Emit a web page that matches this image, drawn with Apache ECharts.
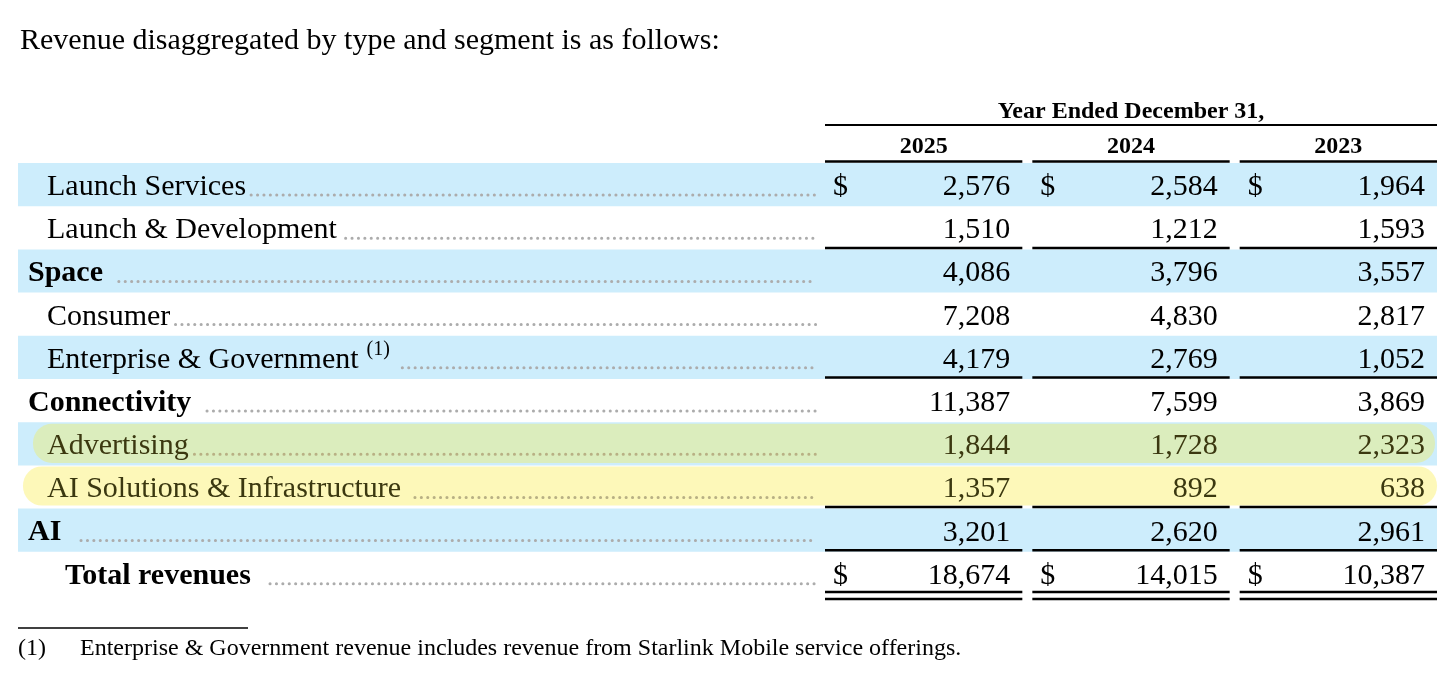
<!DOCTYPE html>
<html>
<head>
<meta charset="utf-8">
<script src="https://cdn.jsdelivr.net/npm/echarts@6/dist/echarts.min.js"></script>
<style>
  html, body { margin: 0; padding: 0; background: #fff; }
  #chart { width: 1456px; height: 681px; }
</style>
</head>
<body>
<div id="chart"></div>
<script>
// table content
const titleText = 'Revenue disaggregated by type and segment is as follows:';
const periodHeader = 'Year Ended December 31,';
const years = ['2025', '2024', '2023'];
const rowLabels = [
  'Launch Services', 'Launch & Development', 'Space',
  'Consumer', 'Enterprise & Government', 'Connectivity',
  'Advertising', 'AI Solutions & Infrastructure', 'AI',
  'Total revenues'
];
const rowKinds = ['item', 'item', 'segment', 'item', 'item', 'segment', 'item', 'item', 'segment', 'total'];
const values2025 = [2576, 1510, 4086, 7208, 4179, 11387, 1844, 1357, 3201, 18674];
const values2024 = [2584, 1212, 3796, 4830, 2769, 7599, 1728, 892, 2620, 14015];
const values2023 = [1964, 1593, 3557, 2817, 1052, 3869, 2323, 638, 2961, 10387];
const dollarRows = [0, 9];
const ruleRows = [1, 4, 7, 8];
const doubleRuleRows = [9];
const footnoteRows = [4];
const footnoteMark = '(1)';
const footnoteText = 'Enterprise & Government revenue includes revenue from Starlink Mobile service offerings.';
const highlightRows = [6, 7];

// look
const SERIF = '"Liberation Serif", "Times New Roman", Times, serif';
const FS = 30;
const BAND = '#cdedfc';
const HIGHLIGHT = { 6: '#dbedbd', 7: '#fdf8b9' };
const MARKED_TEXT = '#3b3810';
const TABLE_LEFT = 18, TABLE_RIGHT = 19, VALUES_LEFT = 820, VALUES_RIGHT = 14;
const TOP = 163, BOTTOM = 86;
const INDENT = { item: 29, segment: 10, total: 47 };

const valuesByYear = [values2025, values2024, values2023];

const measure = document.createElement('canvas').getContext('2d');
function textWidth(str, bold) {
  measure.font = (bold ? 'bold ' : '') + FS + 'px ' + SERIF;
  return measure.measureText(str).width;
}

function renderRow(params, api) {
  const row = api.value(1);
  const c = api.coord([0, row]);
  const s = api.size([1, 1]);
  const left = c[0] - s[0] / 2, top = c[1] - s[1] / 2, w = s[0], h = s[1];
  const kind = rowKinds[row];
  const bold = kind !== 'item';
  const marked = highlightRows.indexOf(row) >= 0;
  const children = [];

  if (row % 2 === 0) {
    children.push({ type: 'rect', shape: { x: left, y: top, width: w, height: h }, style: { fill: BAND } });
  }
  if (marked) {
    const inset = row === 6 ? 15 : 5;
    children.push({
      type: 'rect',
      shape: { x: left + inset, y: top + (row === 6 ? 1.5 : 1), width: w - inset - (row === 6 ? 2 : 0), height: h - 4, r: 19 },
      style: { fill: HIGHLIGHT[row] }
    });
  }

  const x = left + INDENT[kind];
  const color = marked ? MARKED_TEXT : '#000';
  children.push({
    type: 'text',
    style: {
      x: x, y: top + h / 2 + 2.5, text: rowLabels[row],
      font: (bold ? 'bold ' : '') + FS + 'px ' + SERIF,
      fill: color, align: 'left', verticalAlign: 'middle'
    }
  });
  let end = x + textWidth(rowLabels[row], bold);
  if (footnoteRows.indexOf(row) >= 0) {
    children.push({
      type: 'text',
      style: {
        x: end + 8, y: top + 14, text: footnoteMark,
        font: '20px ' + SERIF, fill: color, align: 'left', verticalAlign: 'middle'
      }
    });
    end += 8 + 27;
  }
  const gap = bold ? 15 : (row === 7 ? 9 : 4);
  const step = 6.3;
  const start = left + Math.ceil((end + gap - left) / step) * step;
  const leaderEnd = VALUES_LEFT - 4;
  children.push({
    type: 'line',
    shape: { x1: start, y1: top + 32, x2: leaderEnd, y2: top + 32 },
    style: { stroke: marked ? '#b8b084' : '#acacac', lineWidth: 3, lineCap: 'round', lineDash: [0.1, step] }
  });
  return { type: 'group', children: children };
}

function renderValue(params, api) {
  const col = api.value(0);
  const row = api.value(1);
  const val = api.value(2);
  const c = api.coord([col, row]);
  const s = api.size([1, 1]);
  const left = c[0] - s[0] / 2, top = c[1] - s[1] / 2, w = s[0], h = s[1];
  const marked = highlightRows.indexOf(row) >= 0;
  const color = marked ? MARKED_TEXT : '#000';
  const font = FS + 'px ' + SERIF;
  const children = [];

  children.push({
    type: 'text',
    style: {
      x: left + w - 17, y: top + h / 2 + 2.5, text: val.toLocaleString('en-US'),
      font: font, fill: color, align: 'right', verticalAlign: 'middle'
    }
  });
  if (dollarRows.indexOf(row) >= 0) {
    children.push({
      type: 'text',
      style: { x: left + 13, y: top + h / 2 + 2.5, text: '$', font: font, fill: color, align: 'left', verticalAlign: 'middle' }
    });
  }
  const rule = (y) => ({
    type: 'line',
    shape: { x1: left + 5, y1: y, x2: left + w - 5, y2: y },
    style: { stroke: '#000', lineWidth: 2.5 }
  });
  if (row === 0) {
    children.push(rule(top - 1.5));
    if (col === 0) {
      children.push({
        type: 'line',
        shape: { x1: left + 5, y1: top - 38, x2: left + w * years.length - 5, y2: top - 38 },
        style: { stroke: '#000', lineWidth: 2.2 }
      });
    }
  }
  if (ruleRows.indexOf(row) >= 0) children.push(rule(top + h - 1.5));
  if (doubleRuleRows.indexOf(row) >= 0) {
    children.push(rule(top + h - 3));
    children.push(rule(top + h + 4));
  }
  return { type: 'group', children: children };
}

const rowData = rowLabels.map((_, i) => [0, i]);
const valueData = [];
valuesByYear.forEach((vals, j) => vals.forEach((v, i) => valueData.push([j, i, v])));

const chart = echarts.init(document.getElementById('chart'));
chart.setOption({
  animation: false,
  backgroundColor: '#fff',
  title: [
    { text: titleText, left: 20, top: 26, padding: 0, textStyle: { fontFamily: SERIF, fontSize: 30, fontWeight: 'normal', color: '#000' } },
    { text: footnoteMark, left: 18, top: 637, padding: 0, textStyle: { fontFamily: SERIF, fontSize: 24, fontWeight: 'normal', color: '#000' } },
    { text: footnoteText, left: 80, top: 637, padding: 0, textStyle: { fontFamily: SERIF, fontSize: 24, fontWeight: 'normal', color: '#000' } }
  ],
  graphic: [
    { type: 'line', shape: { x1: 18, y1: 628, x2: 248, y2: 628 }, style: { stroke: '#000', lineWidth: 1.5 } }
  ],
  grid: [
    { left: TABLE_LEFT, right: TABLE_RIGHT, top: TOP, bottom: BOTTOM },
    { left: VALUES_LEFT, right: VALUES_RIGHT, top: TOP, bottom: BOTTOM }
  ],
  xAxis: [
    { gridIndex: 0, type: 'category', data: ['item'], show: false },
    {
      gridIndex: 1, type: 'category', data: years, position: 'top',
      axisLine: { show: false }, axisTick: { show: false },
      axisLabel: { fontFamily: SERIF, fontSize: 24, fontWeight: 'bold', color: '#000', margin: 4 },
      name: periodHeader, nameLocation: 'middle', nameGap: 39,
      nameTextStyle: { fontFamily: SERIF, fontSize: 24, fontWeight: 'bold', color: '#000' }
    }
  ],
  yAxis: [
    { gridIndex: 0, type: 'category', data: rowLabels, inverse: true, show: false },
    { gridIndex: 1, type: 'category', data: rowLabels, inverse: true, show: false }
  ],
  series: [
    { type: 'custom', name: 'rows', xAxisIndex: 0, yAxisIndex: 0, data: rowData, renderItem: renderRow, silent: true },
    { type: 'custom', name: 'values', xAxisIndex: 1, yAxisIndex: 1, data: valueData, renderItem: renderValue, silent: true }
  ]
});
</script>
</body>
</html>
